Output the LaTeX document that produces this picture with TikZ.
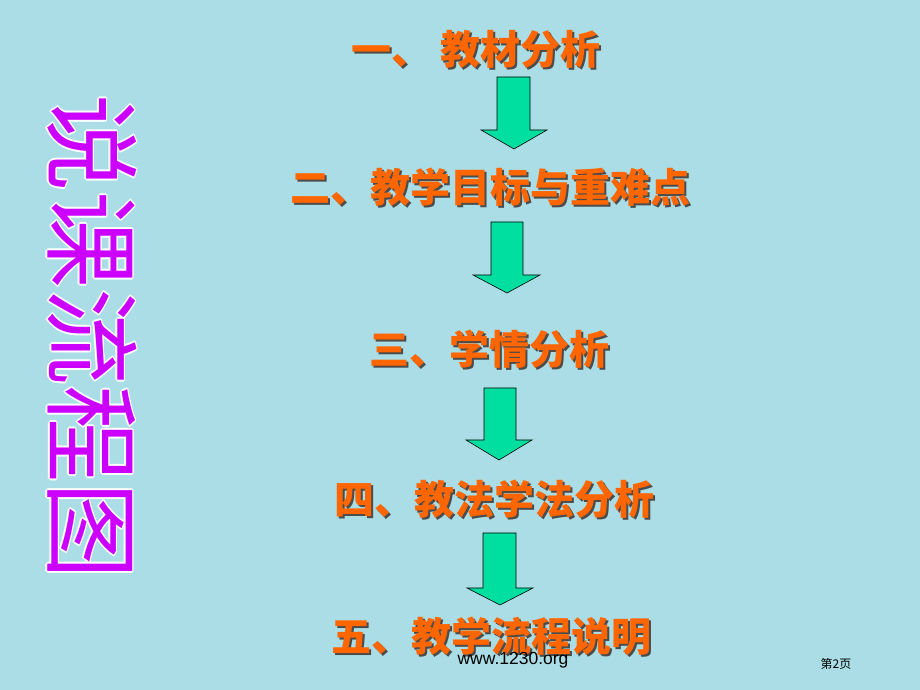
\documentclass[tikz,border=0pt]{standalone}
\usepackage{fontspec}
\newfontfamily\cjk{Noto Sans CJK SC}
\setsansfont{Liberation Sans}
\definecolor{water}{RGB}{170,221,229}
\definecolor{itemorange}{RGB}{255,102,0}
\definecolor{arrowgreen}{RGB}{0,222,160}
\definecolor{titlepurple}{RGB}{204,0,255}
% text with a dark drop shadow
\newcommand\shadowtext[1]{\rlap{\hspace{2pt}\raisebox{-2pt}{\color{black!70}#1}}#1}
% text with a white rim
\newcommand\rimcopy[3]{\rlap{\hspace{#1}\raisebox{#2}{\color{white}#3}}}
\newcommand\rimtext[1]{\rimcopy{-1.6pt}{0pt}{#1}\rimcopy{1.6pt}{0pt}{#1}\rimcopy{0pt}{1.6pt}{#1}\rimcopy{0pt}{-1.6pt}{#1}%
    \rimcopy{-1.1pt}{1.1pt}{#1}\rimcopy{1.1pt}{1.1pt}{#1}\rimcopy{-1.1pt}{-1.1pt}{#1}\rimcopy{1.1pt}{-1.1pt}{#1}#1}

\begin{document}
\begin{tikzpicture}[x=1pt, y=1pt,
    item/.style={text=itemorange, font=\cjk\bfseries\fontsize{40}{40}\selectfont, inner sep=0pt},
    downarrow/.style={fill=arrowgreen, draw=black, line width=0.6pt},
    titletext/.style={rotate=-90, text=titlepurple, font=\cjk\fontsize{97}{97}\selectfont, inner sep=0pt}]

    \fill[water] (0,0) rectangle (920,690);

    % left title
    \node[titletext] (title) at (92,353) {\rimtext{说课流程图}};

    % steps
    \node[item] (s1) at (476,640) {\shadowtext{一、 教材分析}};
    \node[item] (s2) at (490,502) {\shadowtext{二、教学目标与重难点}};
    \node[item] (s3) at (489,340) {\shadowtext{三、学情分析}};
    \node[item] (s4) at (494,190) {\shadowtext{四、教法学法分析}};
    \node[item] (s5) at (491,53) {\shadowtext{五、教学流程说明}};

    % arrows
    \draw[downarrow] (497,613)--(530,613)--(530,560)--(547,560)--(514,541)--(481,560)--(497,560)--cycle;
    \draw[downarrow] (491,468)--(523,468)--(523,415)--(540,415)--(507,397)--(473,415)--(491,415)--cycle;
    \draw[downarrow] (484,302)--(516,302)--(516,250)--(532,250)--(499,230)--(466,250)--(484,250)--cycle;
    \draw[downarrow] (483,157)--(516,157)--(516,102)--(533,102)--(500,85)--(467,102)--(483,102)--cycle;

    % footer
    \node[font=\sffamily\fontsize{17.5}{17.5}\selectfont, inner sep=0pt] (site) at (513,30) {www.1230.org};
    \node[font=\cjk\fontsize{12}{12}\selectfont, inner sep=0pt] (page) at (836,26) {第2页};

\end{tikzpicture}
\end{document}
